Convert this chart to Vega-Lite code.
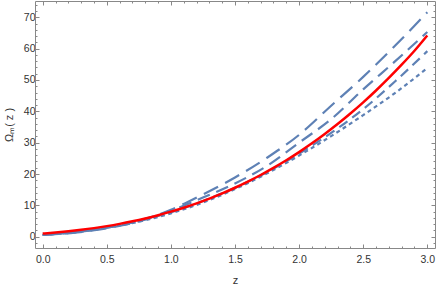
{
  "$schema": "https://vega.github.io/schema/vega-lite/v6.json",
  "width": 400,
  "height": 247,
  "autosize": {"type": "none"},
  "padding": {"left": 35, "top": 1, "right": 1, "bottom": 37},
  "background": "white",
  "config": {
    "view": {"stroke": null},
    "axis": {"grid": false, "labelFont": "Liberation Sans", "titleFont": "Liberation Sans", "labelFontSize": 10.5, "labelColor": "#333333", "titleColor": "#333333", "titleFontWeight": "normal", "titleFontSize": 11, "tickColor": "#888888", "domainColor": "#888888", "domainWidth": 1, "tickWidth": 1}
  },
  "datasets": {
    "curves": [
      {"z": 0, "v": 1.0, "s": "red"}, {"z": 0.1, "v": 1.331, "s": "red"}, {"z": 0.2, "v": 1.728, "s": "red"}, {"z": 0.3, "v": 2.197, "s": "red"}, {"z": 0.4, "v": 2.744, "s": "red"}, {"z": 0.5, "v": 3.375, "s": "red"}, {"z": 0.6, "v": 4.096, "s": "red"}, {"z": 0.7, "v": 4.913, "s": "red"}, {"z": 0.8, "v": 5.832, "s": "red"}, {"z": 0.9, "v": 6.859, "s": "red"}, {"z": 1.0, "v": 8.0, "s": "red"}, {"z": 1.1, "v": 9.261, "s": "red"}, {"z": 1.2, "v": 10.648, "s": "red"}, {"z": 1.3, "v": 12.167, "s": "red"}, {"z": 1.4, "v": 13.824, "s": "red"}, {"z": 1.5, "v": 15.625, "s": "red"}, {"z": 1.6, "v": 17.576, "s": "red"}, {"z": 1.7, "v": 19.683, "s": "red"}, {"z": 1.8, "v": 21.952, "s": "red"}, {"z": 1.9, "v": 24.389, "s": "red"}, {"z": 2.0, "v": 27.0, "s": "red"}, {"z": 2.1, "v": 29.791, "s": "red"}, {"z": 2.2, "v": 32.768, "s": "red"}, {"z": 2.3, "v": 35.937, "s": "red"}, {"z": 2.4, "v": 39.304, "s": "red"}, {"z": 2.5, "v": 42.875, "s": "red"}, {"z": 2.6, "v": 46.656, "s": "red"}, {"z": 2.7, "v": 50.653, "s": "red"}, {"z": 2.8, "v": 54.872, "s": "red"}, {"z": 2.9, "v": 59.319, "s": "red"}, {"z": 3.0, "v": 64.2, "s": "red"},
      {"z": 0, "v": 0.6, "s": "A"}, {"z": 0.25, "v": 1.3, "s": "A"}, {"z": 0.5, "v": 2.7, "s": "A"}, {"z": 0.75, "v": 4.9, "s": "A"}, {"z": 1.0, "v": 8.6, "s": "A"}, {"z": 1.25, "v": 13.5, "s": "A"}, {"z": 1.5, "v": 18.9, "s": "A"}, {"z": 1.75, "v": 25.2, "s": "A"}, {"z": 2.0, "v": 32.5, "s": "A"}, {"z": 2.25, "v": 41.8, "s": "A"}, {"z": 2.5, "v": 51.0, "s": "A"}, {"z": 2.75, "v": 61.0, "s": "A"}, {"z": 3.0, "v": 71.6, "s": "A"},
      {"z": 0, "v": 0.6, "s": "B"}, {"z": 0.25, "v": 1.4, "s": "B"}, {"z": 0.5, "v": 2.9, "s": "B"}, {"z": 0.75, "v": 5.1, "s": "B"}, {"z": 1.0, "v": 8.3, "s": "B"}, {"z": 1.25, "v": 12.5, "s": "B"}, {"z": 1.5, "v": 17.0, "s": "B"}, {"z": 1.75, "v": 22.6, "s": "B"}, {"z": 2.0, "v": 30.0, "s": "B"}, {"z": 2.25, "v": 37.5, "s": "B"}, {"z": 2.5, "v": 47.0, "s": "B"}, {"z": 2.75, "v": 56.0, "s": "B"}, {"z": 3.0, "v": 65.3, "s": "B"},
      {"z": 0, "v": 0.55, "s": "C"}, {"z": 0.25, "v": 1.45, "s": "C"}, {"z": 0.5, "v": 2.9, "s": "C"}, {"z": 0.75, "v": 5.0, "s": "C"}, {"z": 1.0, "v": 7.8, "s": "C"}, {"z": 1.25, "v": 11.4, "s": "C"}, {"z": 1.5, "v": 15.6, "s": "C"}, {"z": 1.75, "v": 20.6, "s": "C"}, {"z": 2.0, "v": 26.5, "s": "C"}, {"z": 2.25, "v": 33.1, "s": "C"}, {"z": 2.5, "v": 40.7, "s": "C"}, {"z": 2.75, "v": 49.6, "s": "C"}, {"z": 3.0, "v": 59.2, "s": "C"},
      {"z": 0, "v": 0.55, "s": "D"}, {"z": 0.25, "v": 1.4, "s": "D"}, {"z": 0.5, "v": 2.9, "s": "D"}, {"z": 0.75, "v": 4.8, "s": "D"}, {"z": 1.0, "v": 7.45, "s": "D"}, {"z": 1.25, "v": 10.9, "s": "D"}, {"z": 1.5, "v": 15.2, "s": "D"}, {"z": 1.75, "v": 20.2, "s": "D"}, {"z": 2.0, "v": 25.9, "s": "D"}, {"z": 2.25, "v": 32.1, "s": "D"}, {"z": 2.5, "v": 38.8, "s": "D"}, {"z": 2.75, "v": 45.9, "s": "D"}, {"z": 3.0, "v": 53.8, "s": "D"}
    ]
  },
  "data": {"name": "curves"},
  "resolve": {"axis": {"x": "independent", "y": "independent"}},
  "layer": [
    {
      "transform": [{"filter": "datum.s == 'A'"}],
      "mark": {"type": "line", "color": "#5E81B5", "strokeWidth": 2.2, "strokeDash": [16, 8], "interpolate": "monotone"},
      "encoding": {
        "x": {"field": "z", "type": "quantitative", "scale": {"domain": [-0.06, 3.06], "nice": false, "zero": false},
          "axis": {"orient": "bottom", "values": [0, 0.5, 1, 1.5, 2, 2.5, 3], "format": ".1f", "tickSize": -4, "labelPadding": 10, "title": "z", "titlePadding": 10}},
        "y": {"field": "v", "type": "quantitative", "scale": {"domain": [-3.6, 75.2], "nice": false, "zero": false},
          "axis": {"orient": "left", "values": [0, 10, 20, 30, 40, 50, 60, 70], "tickSize": -4, "labelPadding": 4, "title": "Ωₘ( z )", "titlePadding": 9}}
      }
    },
    {
      "transform": [{"filter": "datum.s == 'B'"}],
      "mark": {"type": "line", "color": "#5E81B5", "strokeWidth": 2.2, "strokeDash": [13, 7], "interpolate": "monotone"},
      "encoding": {
        "x": {"field": "z", "type": "quantitative", "scale": {"domain": [-0.06, 3.06], "nice": false, "zero": false},
          "axis": {"orient": "bottom", "values": [0.1, 0.2, 0.3, 0.4, 0.6, 0.7, 0.8, 0.9, 1.1, 1.2, 1.3, 1.4, 1.6, 1.7, 1.8, 1.9, 2.1, 2.2, 2.3, 2.4, 2.6, 2.7, 2.8, 2.9], "tickSize": -2, "labels": false, "domain": false, "title": null}},
        "y": {"field": "v", "type": "quantitative", "scale": {"domain": [-3.6, 75.2], "nice": false, "zero": false},
          "axis": {"orient": "left", "values": [-2, 2, 4, 6, 8, 12, 14, 16, 18, 22, 24, 26, 28, 32, 34, 36, 38, 42, 44, 46, 48, 52, 54, 56, 58, 62, 64, 66, 68, 72, 74], "tickSize": -2, "labels": false, "domain": false, "title": null}}
      }
    },
    {
      "transform": [{"filter": "datum.s == 'C'"}],
      "mark": {"type": "line", "color": "#5E81B5", "strokeWidth": 2.2, "strokeDash": [10, 6], "interpolate": "monotone"},
      "encoding": {
        "x": {"field": "z", "type": "quantitative", "scale": {"domain": [-0.06, 3.06], "nice": false, "zero": false},
          "axis": {"orient": "top", "values": [0, 0.5, 1, 1.5, 2, 2.5, 3], "tickSize": -4, "labels": false, "title": null}},
        "y": {"field": "v", "type": "quantitative", "scale": {"domain": [-3.6, 75.2], "nice": false, "zero": false},
          "axis": {"orient": "right", "values": [0, 10, 20, 30, 40, 50, 60, 70], "tickSize": -4, "labels": false, "title": null}}
      }
    },
    {
      "transform": [{"filter": "datum.s == 'D'"}],
      "mark": {"type": "line", "color": "#5E81B5", "strokeWidth": 2.2, "strokeDash": [4, 3.5], "interpolate": "monotone"},
      "encoding": {
        "x": {"field": "z", "type": "quantitative", "scale": {"domain": [-0.06, 3.06], "nice": false, "zero": false},
          "axis": {"orient": "top", "values": [0.1, 0.2, 0.3, 0.4, 0.6, 0.7, 0.8, 0.9, 1.1, 1.2, 1.3, 1.4, 1.6, 1.7, 1.8, 1.9, 2.1, 2.2, 2.3, 2.4, 2.6, 2.7, 2.8, 2.9], "tickSize": -2, "labels": false, "domain": false, "title": null}},
        "y": {"field": "v", "type": "quantitative", "scale": {"domain": [-3.6, 75.2], "nice": false, "zero": false},
          "axis": {"orient": "right", "values": [-2, 2, 4, 6, 8, 12, 14, 16, 18, 22, 24, 26, 28, 32, 34, 36, 38, 42, 44, 46, 48, 52, 54, 56, 58, 62, 64, 66, 68, 72, 74], "tickSize": -2, "labels": false, "domain": false, "title": null}}
      }
    },
    {
      "transform": [{"filter": "datum.s == 'red'"}],
      "mark": {"type": "line", "color": "#FF0000", "strokeWidth": 2.5, "interpolate": "monotone"},
      "encoding": {
        "x": {"field": "z", "type": "quantitative", "scale": {"domain": [-0.06, 3.06], "nice": false, "zero": false}, "axis": null},
        "y": {"field": "v", "type": "quantitative", "scale": {"domain": [-3.6, 75.2], "nice": false, "zero": false}, "axis": null}
      }
    }
  ]
}
